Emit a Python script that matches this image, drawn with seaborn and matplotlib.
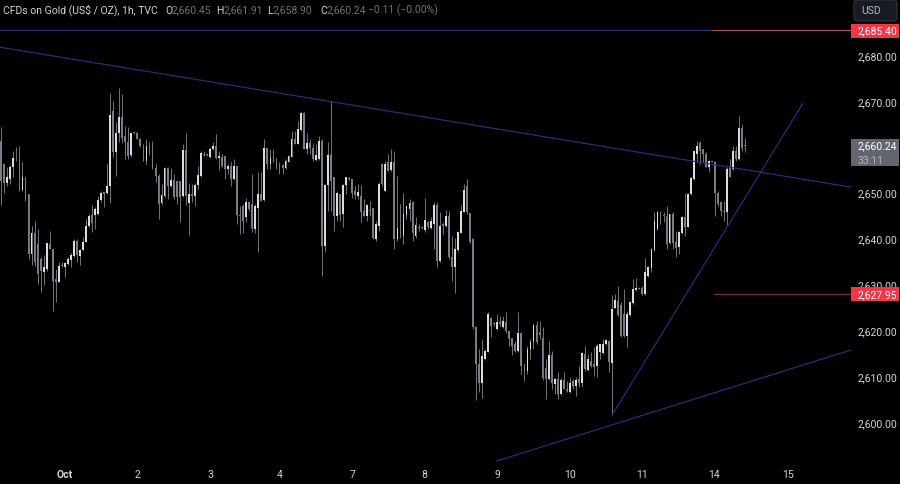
import pandas as pd
import seaborn as sns
import matplotlib.pyplot as plt
from matplotlib.patches import Rectangle, FancyBboxPatch
from matplotlib.transforms import IdentityTransform

sns.set_style('dark', rc={'axes.facecolor': 'black', 'figure.facecolor': 'black'})
plt.rcParams['font.family'] = ['Roboto', 'DejaVu Sans']

# ----
# Hourly candles
# ----
opens = [2661.3,2656.2,2652.2,2653.0,2655.5,2657.5,2657.7,2650.6,2653.3,2649.8,
         2636.6,2641.3,2638.8,2635.5,2632.8,2633.4,2638.8,2637.7,2631.2,2630.6,
         2634.2,2633.7,2634.5,2635.3,2636.1,2639.5,2636.1,2637.6,2639.3,2642.8,
         2645.1,2645.1,2645.4,2648.3,2650.0,2649.9,2651.4,2667.9,2658.8,2663.1,
         2666.4,2662.3,2661.0,2658.2,2663.0,2662.9,2661.8,2660.2,2657.0,2660.2,
         2660.0,2655.3,2653.7,2647.7,2649.3,2655.4,2651.5,2652.8,2652.6,2652.6,
         2649.2,2659.3,2647.7,2649.7,2649.3,2651.7,2653.7,2658.4,2658.3,2657.7,
         2659.5,2660.2,2657.5,2657.8,2658.0,2655.1,2655.9,2653.0,2655.9,2645.0,
         2647.1,2644.6,2647.9,2647.5,2642.0,2646.6,2649.8,2648.4,2659.8,2656.2,
         2657.6,2657.6,2655.7,2656.0,2655.3,2656.7,2657.7,2661.7,2660.7,2663.7,
         2667.3,2659.6,2660.8,2659.8,2657.1,2657.3,2661.3,2638.4,2651.6,2658.2,
         2653.3,2645.0,2649.7,2645.3,2651.6,2653.2,2652.9,2650.4,2649.2,2649.2,
         2646.0,2644.8,2646.3,2646.6,2640.0,2642.8,2656.2,2650.4,2656.7,2654.9,
         2656.7,2639.9,2642.2,2640.6,2645.1,2646.4,2647.9,2640.6,2642.6,2642.5,
         2641.9,2643.6,2642.2,2643.1,2647.3,2635.2,2643.1,2642.8,2644.8,2635.9,
         2633.7,2637.5,2641.3,2645.8,2651.5,2645.5,2639.8,2620.6,2612.6,2608.6,
         2613.7,2615.3,2622.6,2621.6,2620.3,2621.7,2620.6,2621.9,2619.9,2618.4,
         2617.0,2615.5,2619.5,2612.7,2611.2,2615.9,2617.4,2621.1,2619.7,2618.4,
         2611.7,2609.4,2614.6,2608.3,2609.4,2606.1,2609.2,2607.2,2606.5,2609.0,
         2607.9,2609.4,2608.6,2614.8,2611.3,2613.4,2612.7,2612.1,2615.2,2615.0,
         2617.0,2617.7,2612.9,2624.8,2626.4,2625.4,2623.5,2618.8,2623.3,2625.9,
         2628.8,2629.3,2629.3,2627.9,2631.9,2633.5,2637.5,2642.1,2645.7,2645.2,
         2644.9,2639.0,2645.3,2639.2,2638.1,2641.1,2644.6,2642.6,2649.7,2652.9,
         2658.4,2660.9,2659.5,2658.4,2655.5,2656.9,2656.6,2650.0,2647.9,2646.0,
         2645.7,2655.5,2655.1,2659.1,2657.3,2664.0,2660.45]
highs = [2664.2,2656.2,2655.5,2656.0,2659.0,2660.0,2660.2,2656.6,2653.3,2649.8,
         2642.8,2643.9,2642.0,2635.9,2636.3,2639.1,2641.7,2637.7,2633.4,2634.8,
         2634.8,2634.8,2635.9,2636.9,2639.8,2639.9,2637.7,2640.3,2644.3,2645.3,
         2647.2,2646.8,2649.3,2650.4,2650.0,2656.2,2671.8,2670.0,2665.3,2672.9,
         2671.5,2664.6,2664.2,2663.1,2663.1,2663.3,2662.0,2660.6,2661.8,2661.0,
         2661.3,2656.2,2654.0,2651.9,2655.5,2655.5,2655.3,2654.0,2652.6,2652.6,
         2660.7,2663.1,2652.2,2651.9,2652.2,2655.7,2659.1,2659.1,2658.5,2659.9,
         2661.0,2662.8,2659.1,2658.4,2658.0,2656.2,2656.6,2657.3,2655.9,2647.1,
         2647.5,2648.9,2648.2,2654.0,2647.5,2654.4,2654.4,2661.8,2659.8,2659.5,
         2659.5,2657.6,2656.6,2656.2,2657.3,2658.2,2663.5,2663.5,2665.6,2667.6,
         2667.5,2662.9,2661.7,2660.6,2660.6,2662.4,2661.6,2651.8,2661.0,2670.0,
         2653.3,2650.2,2649.7,2651.9,2653.5,2653.5,2652.9,2651.5,2651.8,2651.6,
         2648.6,2647.5,2648.2,2646.6,2643.9,2652.4,2656.4,2656.9,2658.4,2659.5,
         2659.1,2653.7,2647.5,2650.0,2647.1,2648.7,2648.2,2644.6,2643.2,2642.7,
         2648.9,2643.9,2644.6,2647.9,2648.0,2645.7,2643.5,2646.3,2646.0,2640.6,
         2640.2,2641.6,2647.3,2651.9,2652.9,2645.5,2640.1,2621.0,2615.9,2618.1,
         2615.9,2623.9,2622.8,2621.7,2623.5,2623.2,2623.2,2623.9,2619.9,2618.4,
         2617.7,2624.0,2619.5,2612.7,2616.6,2618.1,2621.3,2622.1,2622.1,2620.6,
         2613.7,2617.7,2615.5,2609.7,2610.8,2609.7,2610.8,2609.0,2609.9,2609.4,
         2609.9,2612.3,2615.2,2616.6,2614.8,2615.3,2616.3,2617.0,2617.0,2618.2,
         2618.2,2617.7,2627.7,2627.9,2629.7,2626.1,2628.9,2624.3,2626.4,2631.1,
         2631.3,2629.5,2629.7,2635.7,2634.0,2637.9,2645.7,2646.0,2645.7,2645.7,
         2647.0,2645.3,2645.7,2641.7,2641.7,2644.8,2650.0,2650.0,2653.5,2659.1,
         2661.2,2661.2,2659.5,2658.8,2657.1,2657.0,2656.9,2650.4,2648.2,2648.2,
         2655.5,2657.3,2660.2,2660.2,2666.7,2665.0,2661.91]
lows = [2647.2,2650.0,2651.5,2651.9,2653.3,2657.0,2650.4,2650.4,2648.2,2635.5,
        2634.2,2634.0,2630.0,2628.4,2629.9,2633.0,2637.7,2624.3,2626.1,2630.5,
        2633.7,2631.7,2634.3,2633.7,2635.9,2634.8,2634.3,2637.4,2639.2,2642.4,
        2641.4,2642.1,2645.2,2647.9,2646.8,2649.7,2647.7,2657.7,2653.7,2661.1,
        2660.9,2657.3,2657.3,2657.7,2662.7,2661.7,2659.9,2657.0,2656.2,2658.2,
        2655.1,2652.4,2644.3,2647.2,2649.0,2648.6,2651.2,2648.6,2647.5,2643.5,
        2649.0,2647.2,2640.8,2647.9,2647.0,2650.9,2653.5,2657.9,2657.9,2657.5,
        2659.4,2657.3,2654.9,2655.5,2653.0,2654.0,2651.4,2652.8,2643.2,2641.0,
        2641.3,2643.5,2646.0,2641.5,2641.3,2637.1,2648.2,2648.2,2655.1,2655.1,
        2656.6,2655.1,2654.0,2654.0,2655.1,2656.6,2657.7,2660.6,2660.6,2663.5,
        2659.5,2658.4,2658.4,2656.9,2656.9,2657.1,2631.9,2637.1,2646.0,2646.0,
        2641.7,2643.9,2643.9,2642.4,2649.7,2652.8,2648.9,2648.6,2648.6,2643.7,
        2644.8,2643.9,2644.8,2639.9,2639.5,2641.7,2651.5,2650.4,2654.8,2654.8,
        2637.7,2639.5,2640.2,2638.8,2644.2,2643.9,2639.5,2640.2,2641.7,2642.1,
        2641.5,2642.1,2642.1,2637.7,2633.7,2634.9,2641.0,2642.6,2635.5,2630.8,
        2628.2,2637.3,2641.2,2645.7,2645.3,2639.0,2620.2,2604.7,2606.5,2605.2,
        2613.6,2615.2,2618.6,2621.0,2620.1,2621.0,2620.5,2619.5,2616.6,2614.6,
        2615.2,2615.3,2610.5,2609.0,2610.5,2613.7,2615.9,2617.0,2618.1,2609.2,
        2605.0,2609.2,2607.2,2606.1,2605.0,2605.8,2607.1,2606.6,2606.3,2607.2,
        2605.6,2607.6,2607.6,2611.2,2611.2,2611.9,2610.1,2609.9,2613.7,2614.8,
        2616.8,2610.8,2601.5,2624.8,2623.2,2618.5,2618.5,2616.3,2623.2,2625.7,
        2628.6,2628.9,2627.7,2627.7,2631.7,2632.6,2637.3,2641.9,2643.1,2643.5,
        2637.7,2638.8,2637.7,2635.9,2636.6,2641.0,2640.6,2642.4,2649.5,2652.7,
        2656.6,2656.2,2656.6,2655.5,2654.4,2656.6,2644.8,2647.1,2645.0,2643.9,
        2642.9,2653.3,2655.0,2656.9,2657.2,2659.1,2658.9]
closes = [2652.6,2652.2,2653.3,2655.5,2657.5,2657.3,2650.6,2653.3,2649.3,2636.6,
          2641.3,2634.8,2632.3,2633.0,2633.7,2639.0,2637.7,2630.8,2630.5,2634.1,
          2634.0,2634.7,2635.5,2636.3,2639.5,2636.3,2637.6,2639.3,2642.8,2645.0,
          2643.4,2646.4,2648.3,2650.0,2649.8,2651.4,2666.9,2658.8,2663.1,2666.4,
          2662.0,2661.0,2658.0,2662.9,2662.9,2661.8,2660.2,2657.0,2660.2,2659.6,
          2655.1,2653.7,2647.5,2649.5,2655.4,2651.5,2652.8,2649.0,2649.0,2649.0,
          2659.3,2649.2,2649.7,2649.3,2651.7,2653.8,2658.6,2658.1,2658.1,2659.6,
          2660.2,2657.5,2658.0,2655.9,2655.1,2655.9,2653.0,2655.7,2645.1,2644.8,
          2643.9,2647.9,2646.4,2642.2,2647.1,2649.8,2648.2,2659.8,2656.2,2657.6,
          2656.7,2655.5,2655.1,2655.3,2656.9,2657.9,2661.7,2660.7,2663.8,2667.4,
          2659.6,2660.8,2659.8,2657.3,2658.2,2661.3,2638.4,2651.6,2658.2,2652.6,
          2645.0,2649.9,2645.1,2651.6,2653.3,2652.9,2650.0,2649.5,2650.2,2645.7,
          2644.8,2647.3,2646.0,2640.2,2643.1,2651.9,2651.9,2656.2,2654.8,2656.7,
          2639.9,2642.2,2640.6,2645.3,2647.1,2647.7,2641.3,2642.9,2642.2,2642.3,
          2644.1,2642.4,2643.9,2647.3,2635.2,2642.8,2642.8,2644.8,2635.9,2633.7,
          2637.7,2641.5,2646.0,2650.5,2645.7,2639.3,2620.6,2612.6,2608.6,2614.3,
          2615.5,2623.5,2621.0,2621.4,2621.9,2621.3,2622.1,2619.8,2618.1,2616.6,
          2615.5,2619.5,2612.3,2611.2,2616.0,2617.5,2621.1,2617.4,2619.0,2609.5,
          2609.4,2614.6,2608.6,2609.4,2606.1,2609.2,2607.2,2606.8,2608.5,2607.9,
          2609.2,2608.6,2615.0,2611.5,2613.7,2612.3,2611.9,2616.6,2617.0,2617.0,
          2617.9,2613.0,2624.6,2626.7,2623.3,2618.8,2618.8,2623.5,2626.1,2629.0,
          2629.3,2629.0,2627.9,2632.6,2633.7,2637.7,2643.9,2645.7,2643.9,2644.9,
          2638.8,2645.3,2639.0,2638.0,2641.4,2644.6,2642.6,2649.7,2653.1,2659.1,
          2660.2,2659.1,2658.4,2655.5,2656.9,2656.7,2650.0,2647.5,2646.0,2645.7,
          2655.1,2653.5,2659.1,2657.3,2664.0,2659.8,2660.24]

# Axis labels, 2,660 sits under the last price tag so it has no label of its own
day_pos = [21.1, 44.9, 69.0, 92.2, 116.0, 140.0, 163.9, 188.0, 211.9, 235.7, 260.2]
day_labels = ['Oct', '2', '3', '4', '7', '8', '9', '10', '11', '14', '15']
price_ticks = [2600, 2610, 2620, 2630, 2640, 2650, 2670, 2680]

# Drawn lines (bar index, price)
top_x, top_y = [-0.43, 281.0], [2685.4, 2685.4]
fall_x, fall_y = [-0.43, 281.0], [2681.7, 2651.2]
steep_x, steep_y = [202, 265.1], [2601.5, 2669.5]
base_x, base_y = [163.9, 281.0], [2591.5, 2615.7]
res_x, res_y = [235.0, 281.0], [2685.4, 2685.4]
sup_x, sup_y = [235.7, 281.0], [2627.95, 2627.95]

df = pd.DataFrame({'o': opens, 'h': highs, 'l': lows, 'c': closes})
df['i'] = df.index
up = df[df.c >= df.o]
down = df[df.c < df.o]

UP = '#dcdce0'
DOWN = '#7b7d86'
NAVY = '#2b2f7c'
TEXT = '#d1d4dc'
MUTED = '#6f727c'
FS = 7.5

f = plt.figure(figsize=(9, 4.85), dpi=100)
ax = f.add_axes([0, 1 - 463 / 485, 851 / 900, 463 / 485])
ax.set_xlim(-0.43, 281.0)
ax.set_ylim(2591.28, 2692.21)
ax.grid(False)
for s in ax.spines.values():
    s.set_visible(False)

# Candles
ax.vlines(df.i, df.l, df.h, color=DOWN, lw=0.65, zorder=2)
for part, color in [(up, UP), (down, DOWN)]:
    body = (part.c - part.o).abs().clip(lower=0.25)
    ax.bar(part.i, body, bottom=part[['o', 'c']].min(axis=1), width=0.6, color=color, lw=0, zorder=3)

# Trend lines
for x, y, color in [(top_x, top_y, NAVY), (fall_x, fall_y, NAVY), (steep_x, steep_y, NAVY),
                    (base_x, base_y, NAVY), (res_x, res_y, '#a8485c'), (sup_x, sup_y, '#7a3038')]:
    sns.lineplot(x=x, y=y, color=color, lw=0.85, ax=ax, estimator=None, zorder=4)

# Axes
ax.yaxis.tick_right()
ax.set_yticks(price_ticks)
ax.set_yticklabels([f'{p:,.2f}' for p in price_ticks], color=TEXT, fontsize=FS)
ax.set_xticks(day_pos)
ax.set_xticklabels(day_labels, color=TEXT, fontsize=FS)
ax.get_xticklabels()[0].set_fontweight('bold')
ax.tick_params(axis='y', length=0, pad=5)
ax.tick_params(axis='x', length=0, pad=5)

# Price tags
tr = ax.get_yaxis_transform()
for price, h_up, h_dn, color in [(2685.4, 1.4, 1.6, '#f23645'), (2627.95, 1.4, 1.6, '#f23645'),
                                 (2660.24, 1.45, 4.35, '#63666f')]:
    ax.add_patch(Rectangle((1.0, price - h_dn), 48 / 851, h_up + h_dn, transform=tr, color=color,
                           clip_on=False, lw=0, zorder=6))
    ax.text(1 + 7 / 851, price, f'{price:,.2f}', transform=tr, color='white', fontsize=FS,
            va='center', zorder=7, clip_on=False)
ax.text(1 + 7 / 851, 2657.2, '33:11', transform=tr, color='#b5b7bf', fontsize=FS, va='center', zorder=7)

# USD button
f.add_artist(FancyBboxPatch((854, 485 - 22), 43, 21, boxstyle='round,pad=0,rounding_size=3',
                            transform=IdentityTransform(), fc='#181b24', ec='#2a2e39', lw=1))
f.text(871 / 900, 1 - 11 / 485, 'USD', color='#b2b5be', fontsize=FS, ha='center', va='center')

# Header
head_y = 1 - 10.5 / 485
for x, s, color in [(3, 'CFDs on Gold (US$ / OZ), 1h, TVC', TEXT), (165, 'O', TEXT), (172, '2,660.45', MUTED),
                    (216, 'H', TEXT), (224, '2,661.91', MUTED), (267, 'L', TEXT), (273, '2,658.90', MUTED),
                    (320, 'C', TEXT), (327, '2,660.24', MUTED), (368, '\u22120.11 (\u22120.00%)', MUTED)]:
    f.text(x / 900, head_y, s, color=color, fontsize=FS, va='center')

plt.savefig('out.png', dpi=100, facecolor='black')
plt.close()
